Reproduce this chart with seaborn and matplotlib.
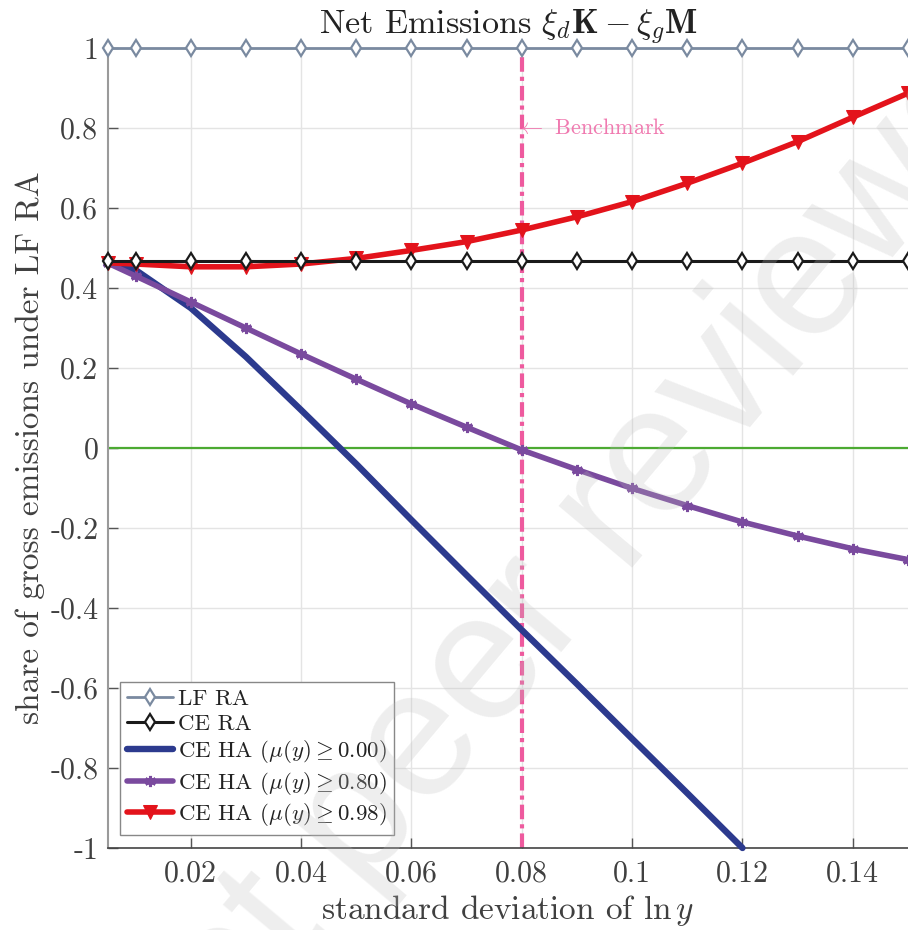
# Net emissions share vs. income dispersion (LF / CE, RA / HA cases)

import numpy as np
import pandas as pd
import matplotlib.pyplot as plt
import seaborn as sns
from matplotlib.ticker import FixedLocator, FixedFormatter

# standard deviation of ln y (grid used by all series)
sd = [0.005, 0.01, 0.02, 0.03, 0.04, 0.05, 0.06, 0.07, 0.08,
      0.09, 0.10, 0.11, 0.12, 0.13, 0.14, 0.15]

lf_ra = [1.0] * 16
ce_ra = [0.467] * 16
ce_ha_000 = [0.462, 0.445, 0.350, 0.228, 0.095, -0.040, -0.180, -0.318,
             -0.455, -0.590, -0.727, -0.863, -1.000]
ce_ha_080 = [0.462, 0.430, 0.365, 0.300, 0.235, 0.172, 0.110, 0.052,
             -0.005, -0.054, -0.101, -0.144, -0.185, -0.220, -0.252, -0.279]
ce_ha_098 = [0.463, 0.460, 0.453, 0.453, 0.460, 0.474, 0.494, 0.516,
             0.545, 0.578, 0.616, 0.662, 0.712, 0.766, 0.827, 0.887]

benchmark = 0.08

xticks = [0.02, 0.04, 0.06, 0.08, 0.10, 0.12, 0.14]
xtick_labels = ["0.02", "0.04", "0.06", "0.08", "0.1", "0.12", "0.14"]
yticks = [-1.0, -0.8, -0.6, -0.4, -0.2, 0.0, 0.2, 0.4, 0.6, 0.8, 1.0]
ytick_labels = ["-1", "-0.8", "-0.6", "-0.4", "-0.2", "0", "0.2", "0.4", "0.6", "0.8", "1"]

sns.set_theme(style="white")
plt.rcParams["font.family"] = ["cmr10"]
plt.rcParams["mathtext.fontset"] = "cm"
plt.rcParams["axes.unicode_minus"] = False

fig = plt.figure(figsize=(9.08, 9.30), dpi=100)
ax = fig.add_axes([108 / 908, 82 / 930, 800 / 908, 800 / 930])

# grid + zero line
ax.grid(True, color="#e4e4e4", lw=1.0)
ax.set_axisbelow(True)
ax.axhline(0, color="#4caa32", lw=1.6, zorder=1.5)

# benchmark line sits under the series
ax.axvline(benchmark, color="#ee5a9e", lw=3.0, dashes=(3.5, 1.2, 1.0, 1.2), zorder=2)
ax.text(benchmark - 0.0008, 0.8, r"$\leftarrow$ Benchmark", color="#f07ab0",
        fontsize=16, ha="left", va="center")

# series
sns.lineplot(x=sd, y=lf_ra, ax=ax, color="#7a8aa0", lw=2.0, marker="d",
             ms=8.5, mfc="white", mec="#7a8aa0", mew=1.6, label="LF RA",
             clip_on=False, zorder=3)
sns.lineplot(x=sd, y=ce_ra, ax=ax, color="#1a1a1a", lw=2.2, marker="d",
             ms=8.5, mfc="white", mec="#1a1a1a", mew=1.6, label="CE RA",
             clip_on=False, zorder=4)
sns.lineplot(x=sd[:len(ce_ha_000)], y=ce_ha_000, ax=ax, color="#2c3a8e",
             lw=4.6, label=r"CE HA $(\mu(y) \geq 0.00)$", clip_on=False, zorder=3)
sns.lineplot(x=sd, y=ce_ha_080, ax=ax, color="#7a4a9e", lw=4.0,
             marker=(6, 2, 0), ms=8, mec="#7a4a9e", mew=2.2,
             label=r"CE HA $(\mu(y) \geq 0.80)$", clip_on=False, zorder=3)
sns.lineplot(x=sd, y=ce_ha_098, ax=ax, color="#e3131b", lw=4.0, marker="v",
             ms=10, mfc="#e3131b", mec="#e3131b",
             label=r"CE HA $(\mu(y) \geq 0.98)$", clip_on=False, zorder=3)

ax.set_xlim(0.005, 0.15)
ax.set_ylim(-1, 1)
ax.xaxis.set_major_locator(FixedLocator(xticks))
ax.xaxis.set_major_formatter(FixedFormatter(xtick_labels))
ax.yaxis.set_major_locator(FixedLocator(yticks))
ax.yaxis.set_major_formatter(FixedFormatter(ytick_labels))
ax.tick_params(direction="in", length=7, width=1.0, labelsize=21.5,
               labelcolor="#404040", color="#555555", pad=7)
ax.tick_params(axis="x", pad=9)
ax.tick_params(top=False, right=False, bottom=True, left=True)

for side in ["top", "right"]:
    ax.spines[side].set_visible(False)
ax.spines["left"].set_color("#9a9a9a")
ax.spines["left"].set_linewidth(1.5)
ax.spines["bottom"].set_color("#444444")
ax.spines["bottom"].set_linewidth(1.2)

ax.set_title(r"Net Emissions $\xi_d\mathbf{K}-\xi_g\mathbf{M}$", fontsize=24.5,
             color="#222222", pad=11)
ax.set_xlabel(r"standard deviation of $\ln y$", fontsize=24, color="#404040")
ax.set_ylabel("share of gross emissions under LF RA", fontsize=24, color="#404040")

leg = ax.legend(loc="lower left", bbox_to_anchor=(0.015, 0.016), borderaxespad=0,
                fontsize=16.5, frameon=True, fancybox=False, edgecolor="#888888",
                framealpha=1, labelspacing=0.2, borderpad=0.3,
                handlelength=2.0, handletextpad=0.25)
leg.get_frame().set_linewidth(1.0)
for t in leg.get_texts():
    t.set_color("#222222")

# faint watermark across the plot
fig.text(0.652, 0.416, "not peer reviewed", rotation=50, fontsize=130,
         family="Liberation Sans", color="#bdbdbd", alpha=0.25,
         ha="center", va="center", zorder=10)

fig.savefig("out.png", dpi=100)
